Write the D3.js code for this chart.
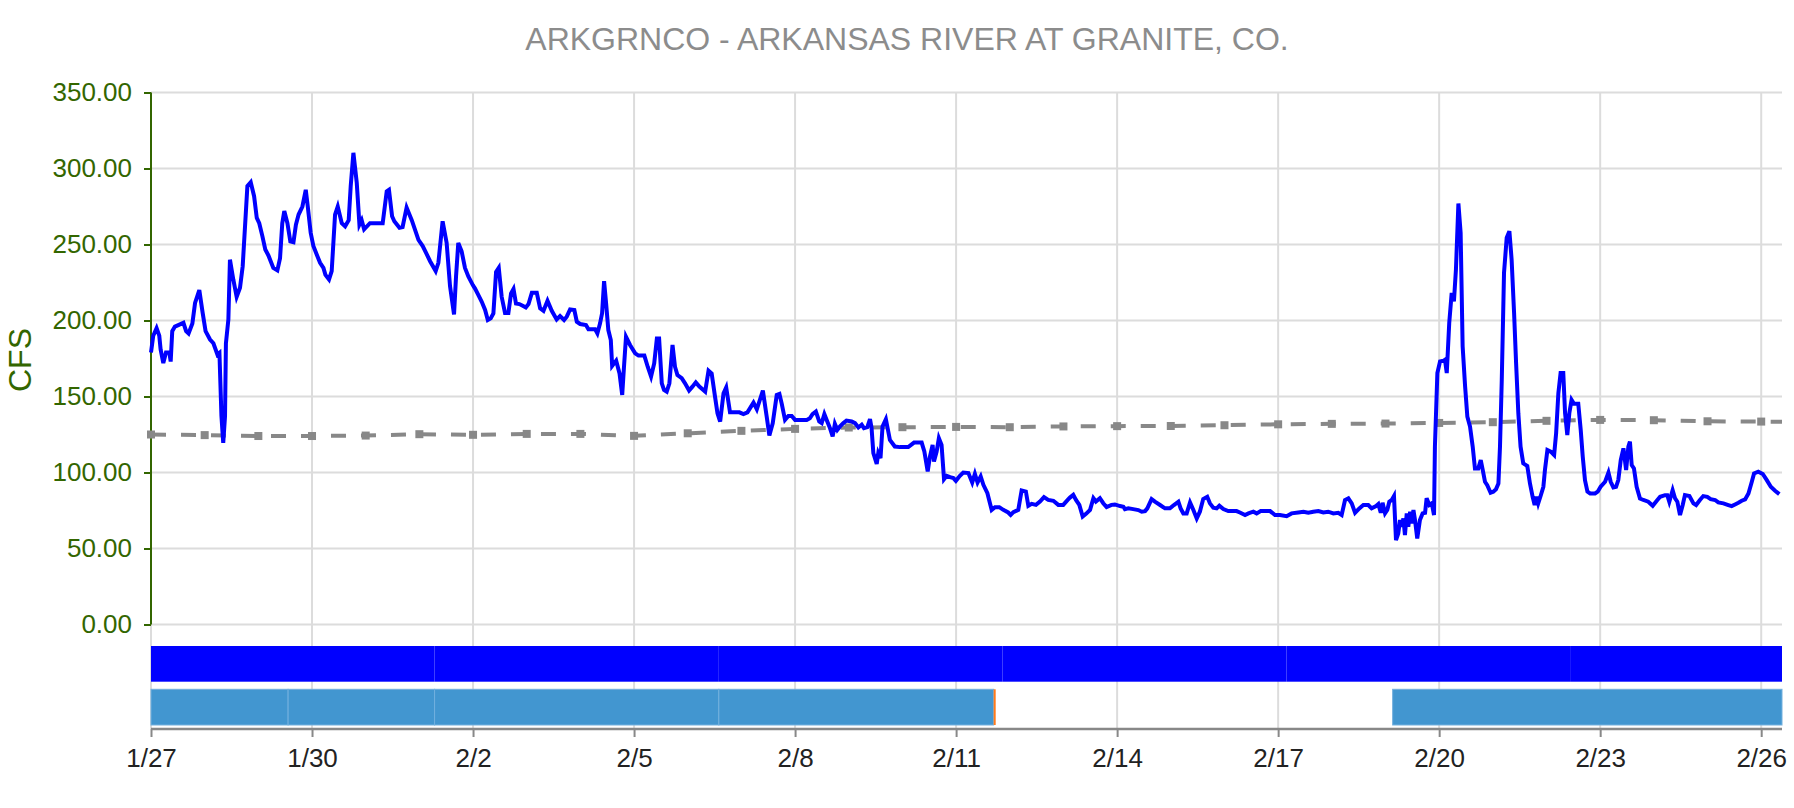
<!DOCTYPE html>
<html>
<head>
<meta charset="utf-8">
<script src="https://cdn.jsdelivr.net/npm/d3@7"></script>
<style>
  body { margin: 0; background: #fff; }
  svg text { font-family: "Liberation Sans", Arial, sans-serif; }
</style>
</head>
<body>
<div id="chart"></div>
<script>
// ---- data ----
var titleText = "ARKGRNCO - ARKANSAS RIVER AT GRANITE, CO.";
var startDate = new Date(2021, 0, 27);     // 1/27 00:00
var endHour = 729.3;                        // last reading, hours after start

var yTicks = [0, 50, 100, 150, 200, 250, 300, 350];
var xTickDays = [0, 3, 6, 9, 12, 15, 18, 21, 24, 27, 30];

// [hours after 1/27 00:00, cfs]
var flow = [
 [0,179],[1,190],[2.5,195],[3.7,190],[4.3,181],[5.5,172],[6.7,179],[8.2,179],[8.8,173],[9.5,193],
 [10.7,196],[12.2,197],[14.5,198.5],[15.7,193],[16.8,191.5],[18.5,198],[19.7,211.6],[21.6,220],[23.1,205],[24.4,193],
 [26.4,187.5],[27.9,185],[29.7,177.6],[30.6,178.7],[31.5,137],[32.3,119.5],[33.1,137],[33.5,185],[34.6,200.7],[35.3,240],
 [36.8,227],[38.3,215.6],[39.8,221.5],[41,235.7],[43.1,288.4],[44.6,291],[46.1,281.8],[47.3,267.5],[48.4,264],[49.8,255.5],
 [51.1,246.7],[52.5,242.8],[54.7,234.6],[56.5,233],[57.7,241],[58.7,264],[59.6,272],[61,264],[62.3,252],[63.7,251.5],
 [64.8,263],[66,269.7],[67.7,275],[69.2,286],[70.1,275],[71.4,257.7],[72.6,249],[74.1,243.4],[75.6,238],[77.1,234.6],
 [78,230],[79.6,227],[80.8,232.5],[82.3,269.7],[83.5,275],[85.3,264],[86.8,262],[88.4,266],[89.3,288.4],[90.5,310.3],
 [92,290.6],[93.2,263],[94.2,266],[95.3,260],[97.9,264],[103.6,264],[105.4,285],[106.4,286],[107.8,268.6],[108.8,265.3],
 [111.1,261],[112.5,261.5],[114.3,274.3],[116.6,266],[119.6,253],[121.5,249],[123,244.5],[124.8,239],[127.3,232.5],[128.5,238],
 [130.4,265.3],[132.2,251],[133.7,222.6],[135.5,204],[136.4,229],[137.4,251],[138.9,245.5],[140.4,234.6],[141.9,229],
 [143.9,223.3],[144.9,221],[146.4,216.7],[147.9,212.3],[149.4,206.9],[150.6,200.3],[151.9,201.4],[153.1,204.7],[154.3,232],[155.5,234.7],
 [156.8,215.6],[158.3,205],[159.8,205],[161,217.8],[162.1,220.7],[163.2,211.2],[164.7,210.8],[166.2,209.7],[167.6,208.6],[168.8,210.8],
 [170.3,218.2],[172.5,218.2],[174,208],[175.5,206.4],[177.3,213],[179.2,206.4],[181.4,200.7],[182.9,202.9],[184.7,200.3],[185.9,202.5],
 [187.4,207.3],[189.3,206.9],[190.4,199.2],[191.9,197.7],[194.5,197],[195.6,194.2],[198.6,194.2],[199.6,191.5],[200.8,198.1],[201.7,204.7],
 [202.6,225.9],[203.5,211.2],[204.5,193.7],[205.6,187.1],[206.2,170.1],[208,173.6],[209.5,165.2],[210.7,151],[211.5,169.6],[212.4,189.3],
 [214.2,183.9],[216.5,178.4],[218,176.9],[220.6,176.9],[222.1,169.6],[223.6,163.1],[225,171.8],[226.2,188.2],[227.2,188.2],[228.4,158.7],
 [229.4,154.3],[230.6,153.2],[231.8,158.7],[233.2,183.9],[234.3,169.6],[235.4,164.1],[237.3,162],[238.8,158.7],[240.6,153.9],[242.1,156.5],
 [243.6,159.3],[245.2,156.5],[247.8,153.2],[249.3,167],[250.7,165.2],[252.2,149.9],[253.3,139],[254.5,133.5],[256,152.1],[257.2,156],
 [258.9,139.6],[263.1,139.6],[264.9,138.5],[266.7,139.6],[269.4,146],[270.9,141.6],[273.6,153.9],[275.3,136.8],[276.5,124.3],[278,132.4],
 [279.8,151],[281,151.7],[282,145.5],[283.5,134.6],[285,137.2],[286.5,137.2],[288,134.6],[293.2,134.6],[294.6,135.7],[295.8,138.4],
 [297.3,140.1],[298.8,133.6],[299.9,132.5],[301.1,138.4],[302.4,133.6],[303.6,129.2],[304.8,123.7],[305.8,132],[306.9,128.1],[308.1,130.3],
 [309.6,132.5],[311,134.2],[313.3,133.6],[314.8,132.5],[316.3,129.6],[317.8,131.4],[318.8,129.2],[320.3,129.8],[321.5,135.1],[322.2,129.2],
 [323,112.7],[324.5,105.7],[325.2,112.7],[326.2,109.4],[327.1,130.3],[328.6,135.1],[330.4,121.5],[332.6,117.1],[334.9,116.7],[338.6,116.7],
 [341.2,119.7],[344.6,119.7],[345.8,113.8],[347.3,100.7],[348.3,110.5],[349.5,118.2],[350.1,107.2],[351.3,113.8],[352.3,122.6],[353.5,118.2],
 [354.6,95.6],[355.8,97.8],[357.3,96.9],[358.8,96.3],[359.9,94.5],[361.7,97.8],[363.2,100],[365.5,99.6],[367.2,93.4],[368.4,99.1],
 [369.6,93.4],[371,97.4],[372.2,91.9],[374,86.4],[375.9,75.4],[377.4,77.2],[379.3,77.2],[381.1,75.4],[383.3,73.7],[384.4,72.1],
 [385.6,73.9],[387.8,75.4],[389.3,88.2],[391.2,87.5],[392.3,78.1],[393.8,79.4],[395.7,78.7],[397.5,80.9],[399.3,83.8],[401.2,82],
 [403.5,81.4],[405.7,78.7],[407.9,78.7],[409.9,82],[410.9,83.5],[412.4,85.3],[413.6,82],[415.1,78.7],[416.6,71],[418.1,72.8],
 [419.9,75.4],[421.4,83.1],[422.5,80.9],[424.3,83.1],[425.8,79.8],[427.3,77.2],[429.5,78.7],[431,79],[433.3,77.9],[434.8,77.5],
 [435.5,75.9],[437,76.4],[439.2,75.9],[441.5,75.3],[443,74.2],[444.5,74.6],[445.5,76.4],[447.4,82.5],[448.9,80.8],[451.2,78.6],
 [453.4,76.4],[455.6,76.4],[457.4,78.6],[459.4,80.8],[460.4,76.4],[461.6,73.1],[463.1,73.1],[464.6,80.3],[466.1,75.3],[467.6,69.8],
 [469,74.2],[470.5,82.5],[472.3,84],[473.5,79.7],[475,76.8],[476.5,76.4],[477.7,78.1],[479.5,75.9],[481.7,74.6],[485.4,74.6],
 [486.9,73.7],[489.2,72],[490.7,73.1],[492.9,74.2],[494.4,73.1],[496.2,74.6],[500.4,74.6],[502.6,72],[504.8,72],[507.8,71.3],
 [510,73.1],[513,73.7],[515.3,74.2],[517.5,73.5],[519.7,74.2],[522,74.6],[524.2,73.7],[526.4,74.2],[528.7,73.1],[530.9,73.5],
 [532.4,72],[533.9,81.9],[535.4,83],[536.9,79.7],[538.4,73.5],[540.3,76.4],[542.1,78.6],[544.3,78.6],[545.8,76.4],[547.8,77.9],
 [548.8,79.2],[549.9,73.5],[550.7,80.1],[551.8,73.1],[552.8,75.3],[553.7,80.8],[554.8,81.9],[555.8,84.5],[556.7,55.5],[557.7,59.9],
 [558.5,68.7],[559.2,64.3],[560,69.8],[560.7,58.8],[561.5,73.1],[562.2,64.3],[563,74.2],[563.7,66.5],[564.5,75.3],[565.2,68.7],
 [566.2,56.6],[567.4,68.7],[568.6,73.1],[569.7,73.5],[570.4,83],[571.6,78.6],[572.7,79.7],[573.7,72],[574.1,117],[575.2,165.4],
 [576.4,173.1],[577.9,173.5],[578.6,174.2],[579.4,165.4],[580.5,198.3],[581.6,218.1],[582.6,212.6],[583.5,233.5],[584.6,277],[585.6,257.7],
 [586.5,183],[587.6,156.6],[588.6,136.8],[589.8,130.2],[591,117],[592,102.7],[593.5,102.7],[594.6,108.2],[595.5,101.6],[596.5,93.9],
 [597.5,91.7],[599,86.7],[600.2,87.4],[601.4,88.9],[602.5,92.8],[603.2,117],[604,161],[605,231.3],[606.2,254.4],[607.4,258.8],
 [608.4,240.1],[609.5,205],[610.4,172],[611.4,139],[612.4,117],[613.6,106],[615.4,104.3],[616.6,92.8],[617.8,84],[618.7,78.6],
 [619.6,84],[620.3,79.7],[621.5,85.2],[622.6,90.6],[623.3,101.6],[624.4,114.8],[625.9,113.7],[627.4,111.5],[628.3,125.8],[629.3,152.2],
 [630.3,165.4],[631.5,165.4],[632.3,139],[633.3,124.7],[634.2,139],[635.2,147.8],[636.3,145.2],[638.2,145.2],[639.3,128],[640.2,110.4],
 [641.2,95],[642.3,87.4],[643.5,86.2],[645.7,86.2],[646.9,87.4],[648.2,90.6],[650.2,93.9],[651.7,99.9],[652.7,93.9],[653.9,90.2],
 [655.1,90.6],[656.1,95],[657.2,108.2],[658.4,115.9],[659.6,101.6],[660.6,117],[661.3,120.3],[662.1,104.9],[663.1,102.7],[664.3,90.6],
 [665.8,82.9],[667.3,81.9],[669.5,80.8],[671.5,78.1],[673.3,81.4],[674.8,84],[677,85.1],[678,85.1],[678.9,80.8],[680.4,88.4],
 [681.5,82.9],[682.5,80.8],[683.7,72],[684.9,78.6],[685.9,85.1],[687.9,84.5],[689.7,79.7],[690.9,78.6],[692.6,81.9],[694.1,84.5],
 [695.9,84],[697.4,82.5],[699.4,81.9],[700.8,80.3],[703.1,79.7],[705.3,78.6],[706.8,77.9],[708.3,79],[709.8,80.1],[711.3,81.4],
 [712.8,82.3],[714.3,86.2],[715.8,93.9],[716.8,99.4],[718.7,100.5],[720.7,99],[722.5,95],[724.3,90.6],[726.2,88],[728.1,85.8]
];

// daily median (one value per day at midnight), plus value at the last reading
var medianCfs = [125, 124.6, 124, 124, 124.3, 125.2, 124.8, 125.4, 125.4, 124.1, 125.8, 127.4, 128.7, 129.6, 129.8, 130,
                 129.8, 130.3, 130.5, 130.6, 131.1, 131.7, 132, 132.2, 132.6, 133.1, 134, 134.6, 134.4, 133.7, 133.5];
var medianEnd = 133.4;

// data availability rows: [start hour, end hour]
var sourceRow = [[0,126.8],[126.8,253.9],[253.9,380.7],[380.7,507.7],[507.7,634.9],[634.9,729.3]];
var qualityRow = [[0,61.3],[61.3,126.8],[126.8,253.9],[253.9,376.8],[555.2,729.3]];
var flagRow = [[376.8,377.7]];

// ---- chart ----
var width = 1794, height = 808;
// NB: can't call it "top" - clashes with window.top
var plotLeft = 151, plotRight = 1782, plotTop = 92.5, plotBottom = 624.5;

function hourToDate(h) { return new Date(startDate.getTime() + h * 3600 * 1000); }

var x = d3.scaleTime()
    .domain([startDate, hourToDate(endHour)])
    .range([plotLeft, plotRight]);
var y = d3.scaleLinear().domain([0, 350]).range([plotBottom, plotTop]);

var svg = d3.select('#chart').append('svg')
    .attr('width', width)
    .attr('height', height);

var axisY = 729;   // y position of bottom axis line

// vertical grid (through the bars area too)
svg.append('g')
  .selectAll('line')
  .data(xTickDays)
  .enter().append('line')
    .attr('x1', function(d) { return x(d3.timeDay.offset(startDate, d)); })
    .attr('x2', function(d) { return x(d3.timeDay.offset(startDate, d)); })
    .attr('y1', plotTop)
    .attr('y2', axisY)
    .attr('stroke', '#dcdcdc')
    .attr('stroke-width', 2);

// horizontal grid
svg.append('g')
  .selectAll('line')
  .data(yTicks)
  .enter().append('line')
    .attr('x1', plotLeft)
    .attr('x2', plotRight)
    .attr('y1', function(d) { return y(d); })
    .attr('y2', function(d) { return y(d); })
    .attr('stroke', '#dcdcdc')
    .attr('stroke-width', 2);

// title
svg.append('text')
    .attr('x', 907)
    .attr('y', 50)
    .attr('text-anchor', 'middle')
    .attr('font-size', 32)
    .attr('fill', '#8c8c8c')
    .text(titleText);

// y axis
var yAxis = d3.axisLeft(y)
    .tickValues(yTicks)
    .tickSize(7)
    .tickPadding(12)
    .tickFormat(d3.format('.2f'));
var gy = svg.append('g')
    .attr('transform', 'translate(' + plotLeft + ',0)')
    .call(yAxis);
gy.select('.domain').attr('stroke', '#336600').attr('stroke-width', 2).attr('d', 'M0,' + plotTop + 'V' + plotBottom);
gy.selectAll('.tick line').attr('stroke', '#336600').attr('stroke-width', 2);
gy.selectAll('.tick text')
    .attr('fill', '#336600')
    .attr('font-size', 26)
    .attr('font-family', '"Liberation Sans", Arial, sans-serif');

svg.append('text')
    .attr('transform', 'translate(31,360) rotate(-90)')
    .attr('text-anchor', 'middle')
    .attr('font-size', 32)
    .attr('fill', '#336600')
    .text('CFS');

// availability bars
var barH = 35.7;
function drawRow(rows, yTop, color, edge) {
  svg.append('g')
    .selectAll('rect')
    .data(rows)
    .enter().append('rect')
      .attr('x', function(d) { return x(hourToDate(d[0])); })
      .attr('width', function(d) { return x(hourToDate(d[1])) - x(hourToDate(d[0])); })
      .attr('y', yTop)
      .attr('height', barH)
      .attr('fill', color)
      .attr('stroke', edge || 'none')
      .attr('stroke-width', 1);
}
drawRow(sourceRow, 646, '#0000ff');
drawRow(qualityRow, 689.3, '#4296d0', '#72b0de');
drawRow(flagRow, 689.3, '#ff7a1a');

// x axis
var xAxis = d3.axisBottom(x)
    .tickValues(xTickDays.map(function(d) { return d3.timeDay.offset(startDate, d); }))
    .tickSize(8)
    .tickPadding(12)
    .tickFormat(d3.timeFormat('%-m/%-d'));
var gx = svg.append('g')
    .attr('transform', 'translate(0,' + axisY + ')')
    .call(xAxis);
gx.select('.domain').attr('stroke', '#888').attr('stroke-width', 2.5).attr('d', 'M' + plotLeft + ',0H' + plotRight);
gx.selectAll('.tick line').attr('stroke', '#888').attr('stroke-width', 2);
gx.selectAll('.tick text')
    .attr('fill', '#222')
    .attr('font-size', 26)
    .attr('font-family', '"Liberation Sans", Arial, sans-serif');

// median dashed line
var medianPts = medianCfs.map(function(v, i) { return [i * 24, v]; });
medianPts.push([endHour, medianEnd]);
var line = d3.line()
    .x(function(d) { return x(hourToDate(d[0])); })
    .y(function(d) { return y(d[1]); });

svg.append('path')
    .datum(medianPts)
    .attr('fill', 'none')
    .attr('stroke', '#888')
    .attr('stroke-width', 4)
    .attr('stroke-dasharray', '15,15')
    .attr('d', line);

svg.append('g')
  .selectAll('rect')
  .data(medianPts.slice(0, medianCfs.length))
  .enter().append('rect')
    .attr('x', function(d) { return x(hourToDate(d[0])) - 4; })
    .attr('y', function(d) { return y(d[1]) - 4; })
    .attr('width', 8)
    .attr('height', 8)
    .attr('fill', '#888');

// flow line
svg.append('path')
    .datum(flow)
    .attr('fill', 'none')
    .attr('stroke', '#0000ff')
    .attr('stroke-width', 4)
    .attr('d', line);
</script>
</body>
</html>
